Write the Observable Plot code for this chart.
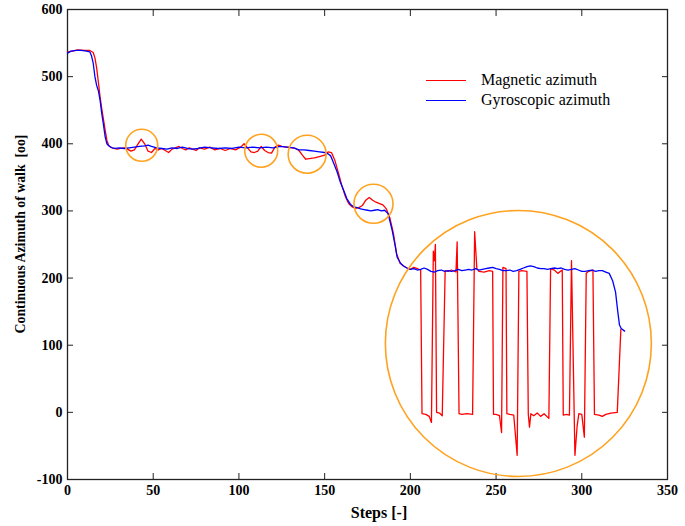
<!DOCTYPE html>
<html>
<head>
<meta charset="utf-8">
<script src="https://cdn.jsdelivr.net/npm/d3@7"></script>
<script src="https://cdn.jsdelivr.net/npm/@observablehq/plot@0.6"></script>
<style>
  html, body { margin: 0; padding: 0; background: #fff; }
  #wrap { position: relative; width: 685px; height: 526px; font-family: "Liberation Serif", "Times New Roman", serif; color: #000; }
  #legend { position: absolute; left: 426px; top: 70px; font-size: 16px; line-height: 20px; }
  #legend .row { display: flex; align-items: center; height: 20px; }
  #legend .sw { width: 40px; height: 0; border-top: 1.4px solid; margin-right: 15px; }
  .lab { position: absolute; white-space: pre; font-size: 16px; font-weight: bold; }
  #xlab { left: 379px; top: 513px; transform: translate(-50%, -50%); }
  #ylab { left: 20.5px; top: 234px; transform: translate(-50%, -50%) rotate(-90deg); font-size: 13.8px; }
</style>
</head>
<body>
<div id="wrap">
  <div id="chart"></div>
  <div id="legend"></div>
  <div class="lab" id="xlab"></div>
  <div class="lab" id="ylab"></div>
</div>
<script>
const seriesNames = ["Magnetic azimuth", "Gyroscopic azimuth"];
const seriesColors = ["#ff0000", "#0000ff"];
const xLabel = "Steps [-]";
const yLabel = "Continuous Azimuth of walk  [oo]";

const magSteps = [0,3,6,10,13,15,16,17,18,19,20,21,22,23,24,25,27,29,31,33,35,37,39,41,43,45,47,49,51,53,55,57,59,61,63,65,67,69,71,73,75,77,80,83,86,89,92,95,98,101,103,105,107,109,111,113,115,117,119,121,123,125,128,131,133,135,137,139,141,144,147,150,152,154,156,158,160,162,164,166,168,170,172,174,176,178,180,182,184,186,188,190,192,194,196,198,200,202,204,206,206.8,209,211,212.3,213.4,214,214.6,215.3,217,218.6,220.3,222,224,226.6,227.3,228.4,230,233,236.3,237.5,238.8,240,243,246,248,248.5,250,252,253.2,254,255.8,256.3,258,260.3,262.3,263.3,265,268,268.8,269.5,270.3,272,274,276,278,280.8,281.8,284,286,288.6,289.2,291,292.8,294,296,297.3,298.3,300,301.5,302.6,304,306.5,307.4,310,312,314,317,320.7,322.8];
const magValues = [537,538,540,539,539,536,528,513,492,470,452,436,420,405,398,395,393,392,393,394,392,389,391,399,407,400,389,387,393,391,393,390,387,392,394,396,393,391,394,392,390,394,392,395,391,393,390,393,391,395,400,394,388,387,389,396,390,387,386,395,398,396,395,394,393,390,383,377,378,379,381,383,388,387,375,357,338,322,311,306,304,305,308,316,320,316,313,311,309,303,290,268,236,222,218,215,213,216,214,212,-2,-3,-6,-15,240,226,250,0,-1,-5,211,210,212,209,254,-2,-3,-2,-3,269,214,210,209,211,210,-3,-3,-5,-30,216,214,-2,-3,-4,-64,210,211,210,-3,-22,-2,-5,-1,-6,-2,-9,214,212,207,212,-4,-3,-4,226,-64,-20,-2,-3,-37,207,210,212,-3,-4,-6,-3,-1,0,124];

const gyroSteps = [0,2,5,8,11,13,14,15,16,17,18,19,20,21,22,23,24,26,28,30,33,36,39,42,45,47,49,52,55,58,61,64,67,70,73,76,80,84,88,92,96,100,104,108,112,116,120,124,128,132,135,138,141,144,147,150,152,153.5,155,157.3,159,161.2,163,165,167,169,171,173,175,177,179,181,183,185,187,189.4,191,192.3,194.3,196,198,200,202,204,206,208,210,212,214,216,218,220,222,224,226,228,230,232,234,236,238,240,242,244,246,248,250,252,254,256,258,260,262,264,266,268,270,272,274,276,278,280,282,284,286,288,290,292,294,296,298,300,302,304,306,308,310,312,314,316,318,319.7,321,322,323,325];
const gyroValues = [535,538,539,539,538,537,531,520,500,487,479,465,445,428,410,400,397,394,393,394,393,394,395,396,397,398,396,394,393,392,394,393,395,393,392,393,395,394,393,394,393,395,394,395,394,395,394,396,395,394,391,391,390,389,388,387,385,382,373,358,344,330,318,310,306,305,303,302,301,300,301,302,300,301,296,271,250,231,222,218,215,213,214,212,213,215,213,210,209,211,212,210,211,210,211,213,211,212,213,212,214,212,213,214,215,216,214,213,211,211,212,210,211,213,215,217,218,217,215,214,214,213,214,215,214,215,213,212,213,214,212,210,210,211,212,210,211,211,209,207,196,179,150,130,125,121];

const highlightSteps = [43.3, 113, 139.8, 178.5, 263];
const highlightValues = [397.8, 389.6, 384.5, 310.6, 102.6];

const xTicks = [0,50,100,150,200,250,300,350];
const yTicks = [-100,0,100,200,300,400,500,600];

const mag = magSteps.map((s,i) => ({step: s, value: magValues[i]}));
const gyro = gyroSteps.map((s,i) => ({step: s, value: gyroValues[i]}));
const highlights = highlightSteps.map((s,i) => ({step: s, value: highlightValues[i], k: i}));
const radii = [16, 16.5, 19, 19.5, 133];

const chart = Plot.plot({
  width: 685,
  height: 526,
  marginLeft: 67,
  marginRight: 18,
  marginTop: 9,
  marginBottom: 47,
  style: {fontFamily: '"Liberation Serif", "Times New Roman", serif', background: "#fff", color: "#000"},
  x: {domain: [0, 350], ticks: xTicks},
  y: {domain: [-100, 600], ticks: yTicks},
  r: {type: "identity"},
  marks: [
    Plot.axisX(xTicks, {anchor: "bottom", tickSize: -6, tickPadding: 12, fontSize: 14, fontWeight: "bold", tickFormat: d => String(d), label: null, stroke: "#222"}),
    Plot.axisX(xTicks, {anchor: "top", tickSize: -6, tickFormat: () => "", label: null, stroke: "#222"}),
    Plot.axisY(yTicks, {anchor: "left", tickSize: -6, tickPadding: 11, fontSize: 14, fontWeight: "bold", tickFormat: d => String(d), label: null, stroke: "#222"}),
    Plot.axisY(yTicks, {anchor: "right", tickSize: -6, tickFormat: () => "", label: null, stroke: "#222"}),
    Plot.frame({stroke: "#222", strokeWidth: 1.3}),
    Plot.line(mag, {x: "step", y: "value", stroke: seriesColors[0], strokeWidth: 1.3}),
    Plot.line(gyro, {x: "step", y: "value", stroke: seriesColors[1], strokeWidth: 1.3}),
    Plot.dot(highlights, {x: "step", y: "value", r: d => radii[d.k], stroke: "#ffa21f", strokeWidth: 1.6, fill: "none"})
  ]
});
document.getElementById("chart").appendChild(chart);

document.getElementById("xlab").textContent = xLabel;
document.getElementById("ylab").textContent = yLabel;

const legend = document.getElementById("legend");
seriesNames.forEach((name, i) => {
  const row = document.createElement("div");
  row.className = "row";
  const sw = document.createElement("div");
  sw.className = "sw";
  sw.style.borderTopColor = seriesColors[i];
  const tx = document.createElement("span");
  tx.textContent = name;
  row.appendChild(sw);
  row.appendChild(tx);
  legend.appendChild(row);
});
</script>
</body>
</html>
